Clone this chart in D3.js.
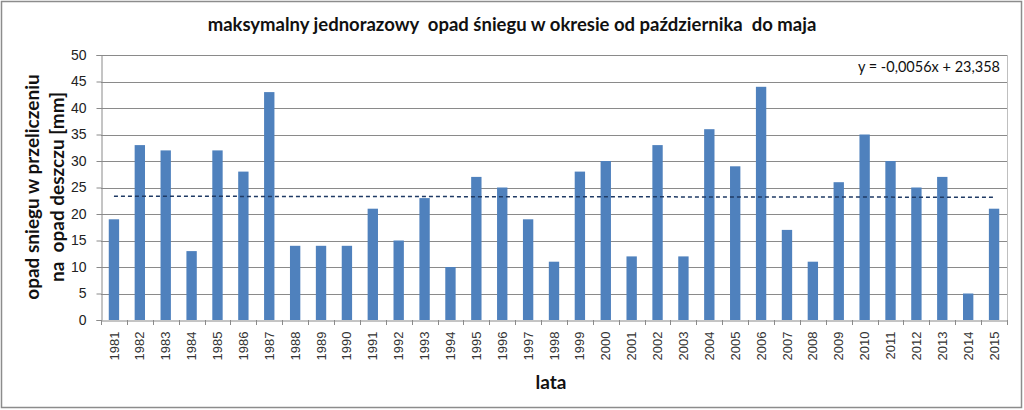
<!DOCTYPE html>
<html><head><meta charset="utf-8">
<script src="https://cdn.jsdelivr.net/npm/d3@7"></script>
<style>body{margin:0;background:#fff}svg{display:block}text{white-space:pre}</style>
</head><body>
<svg id="c" width="1024" height="410"></svg>
<script>
const years = ["1981","1982","1983","1984","1985","1986","1987","1988","1989","1990","1991","1992","1993","1994","1995","1996","1997","1998","1999","2000","2001","2002","2003","2004","2005","2006","2007","2008","2009","2010","2011","2012","2013","2014","2015"];
const values = [19,33,32,13,32,28,43,14,14,14,21,15,23,10,27,25,19,11,28,30,12,33,12,36,29,44,17,11,26,35,30,25,27,5,21];
const yTicks = [0,5,10,15,20,25,30,35,40,45,50];
const trendSlope = -0.0056, trendIntercept = 23.358;
const titleText = "maksymalny jednorazowy  opad śniegu w okresie od października  do maja";
const yTitle = ["opad sniegu w przeliczeniu", "na  opad deszczu [mm]"];
const xTitle = "lata";
const eqText = "y = -0,0056x + 23,358";

const svg = d3.select("#c");
const L = 101, R = 1007, T = 55, B = 320;
const x = d3.scaleBand().domain(years).range([L, R]).paddingInner(0.6).paddingOuter(0.3);
const y = d3.scaleLinear().domain([0, 50]).range([B, T]);

// outer border
svg.append("rect").attr("x",1.5).attr("y",1.5).attr("width",1020).attr("height",406)
  .attr("fill","#fff").attr("stroke","#8c8c8c").attr("stroke-width",1.5);

// gridlines
svg.append("g").selectAll("line").data(yTicks.filter(d=>d>0)).join("line")
  .attr("x1",L).attr("x2",R).attr("y1",d=>Math.round(y(d))+0.5).attr("y2",d=>Math.round(y(d))+0.5)
  .attr("stroke","#8a8a8a").attr("stroke-width",1);
// right border of plot
svg.append("line").attr("x1",R+0.5).attr("x2",R+0.5).attr("y1",T).attr("y2",B).attr("stroke","#bfbfbf");

// bars
svg.append("g").selectAll("rect").data(values).join("rect")
  .attr("x",(d,i)=>x(years[i])).attr("width",x.bandwidth())
  .attr("y",d=>y(d)).attr("height",d=>B-y(d)).attr("fill","#4f81bd");

// y axis
const yAxis = d3.axisLeft(y).tickValues(yTicks).tickSize(5).tickPadding(10);
const gy = svg.append("g").attr("transform",`translate(${L+0.5},0)`).call(yAxis);
gy.select(".domain").attr("stroke","#8a8a8a");
gy.selectAll(".tick line").attr("stroke","#8a8a8a");
gy.selectAll("text").attr("font-family","Liberation Sans, Arial, sans-serif").attr("font-size",14).attr("fill","#222");

// x axis
const xAxis = d3.axisBottom(x).tickSize(0).tickPadding(0);
const gx = svg.append("g").attr("transform",`translate(0,${B+0.5})`).call(xAxis);
gx.select(".domain").attr("stroke","#8a8a8a");
gx.selectAll(".tick text").attr("transform","rotate(-90)").attr("text-anchor","end")
  .attr("x",-11).attr("y",0).attr("dy","0.35em")
  .attr("font-family","Liberation Sans, Arial, sans-serif").attr("font-size",13).attr("fill","#333");
// boundary ticks between categories
const bounds = d3.range(years.length+1).map(i=>L + i*(R-L)/years.length);
svg.append("g").selectAll("line").data(bounds).join("line")
  .attr("x1",d=>Math.round(d)+0.5).attr("x2",d=>Math.round(d)+0.5).attr("y1",B).attr("y2",B+5)
  .attr("stroke","#8a8a8a");

// trend line
const trendPts = years.map((yr,i)=>[x(yr)+x.bandwidth()/2, y(trendIntercept + trendSlope*(i+1))]);
svg.append("line").attr("x1",trendPts[0][0]).attr("y1",trendPts[0][1])
  .attr("x2",trendPts[trendPts.length-1][0]).attr("y2",trendPts[trendPts.length-1][1])
  .attr("stroke","#1f3a64").attr("stroke-width",1.5).attr("stroke-dasharray","4,3");

// equation
svg.append("text").attr("x",1000).attr("y",72).attr("text-anchor","end")
  .attr("font-family","Lato, Open Sans, sans-serif").attr("font-size",14.5).attr("fill","#111").text(eqText);

// title
svg.append("text").attr("x",512).attr("y",31).attr("text-anchor","middle")
  .attr("font-family","Lato, Open Sans, sans-serif").attr("font-weight","bold").attr("font-size",18.5)
  .attr("fill","#111").text(titleText);

// y title
const yt = svg.append("text").attr("transform","translate(39,187) rotate(-90)")
  .attr("text-anchor","middle").attr("font-family","Lato, Open Sans, sans-serif")
  .attr("font-weight","bold").attr("font-size",19).attr("fill","#111");
yt.selectAll("tspan").data(yTitle).join("tspan").attr("x",0).attr("dy",(d,i)=>i===0?0:25).text(d=>d);

// x title
svg.append("text").attr("x",551).attr("y",389).attr("text-anchor","middle")
  .attr("font-family","Lato, Open Sans, sans-serif").attr("font-weight","bold").attr("font-size",19)
  .attr("fill","#111").text(xTitle);
</script>
</body></html>
